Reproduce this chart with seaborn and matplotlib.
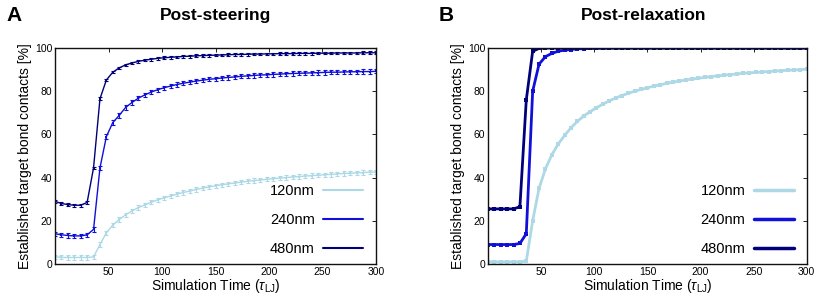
"""Bond-contact formation over simulation time, post-steering vs post-relaxation."""

import matplotlib
matplotlib.use("Agg")
import matplotlib.pyplot as plt
from matplotlib.lines import Line2D
import pandas as pd
import seaborn as sns

# ---------------------------------------------------------------------------
# Data
# ---------------------------------------------------------------------------

TIME = list(range(0, 301, 6))
LENGTHS = ["120nm", "240nm", "480nm"]
COLORS = {"120nm": "#add8e6", "240nm": "#1010d8", "480nm": "#00007a"}

# Panel A: post-steering
A_120 = [3.3, 3.1, 3.0, 3.0, 3.0, 3.0, 3.3, 9.0, 14.5, 18.0,
         20.6, 22.8, 24.6, 26.1, 27.4, 28.6, 29.7, 30.6, 31.5, 32.3,
         33.1, 33.8, 34.5, 35.1, 35.7, 36.2, 36.7, 37.1, 37.5, 37.9,
         38.3, 38.6, 38.9, 39.2, 39.5, 39.8, 40.0, 40.3, 40.5, 40.7,
         40.9, 41.1, 41.3, 41.5, 41.7, 41.9, 42.0, 42.2, 42.3, 42.5, 42.6]
A_240 = [14.0, 13.5, 13.2, 13.0, 13.0, 13.5, 16.0, 44.5, 59.0, 65.5,
         68.8, 72.5, 74.8, 76.8, 78.3, 79.6, 80.7, 81.6, 82.4, 83.1,
         83.7, 84.2, 84.7, 85.1, 85.5, 85.8, 86.1, 86.4, 86.6, 86.9,
         87.1, 87.3, 87.5, 87.6, 87.8, 87.9, 88.1, 88.2, 88.3, 88.4,
         88.5, 88.6, 88.7, 88.8, 88.8, 88.9, 89.0, 89.0, 89.1, 89.1, 89.2]
A_480 = [29.0, 28.0, 27.5, 27.2, 27.2, 28.5, 44.5, 76.5, 85.2, 88.8,
         90.8, 92.2, 93.1, 93.8, 94.4, 94.8, 95.2, 95.5, 95.7, 95.9,
         96.1, 96.2, 96.4, 96.5, 96.6, 96.7, 96.8, 96.9, 97.0, 97.0,
         97.1, 97.2, 97.2, 97.3, 97.3, 97.4, 97.4, 97.4, 97.5, 97.5,
         97.5, 97.6, 97.6, 97.6, 97.7, 97.7, 97.7, 97.7, 97.8, 97.8, 97.8]
A_ERR = {"120nm": 1.0, "240nm": 1.0, "480nm": 0.6}

# Panel B: post-relaxation
B_120 = [1.0, 1.0, 1.0, 1.0, 1.0, 1.0, 1.3, 20.0, 35.0, 44.0,
         50.5, 55.5, 59.5, 63.0, 66.0, 68.5, 70.5, 72.3, 74.0, 75.5,
         76.8, 78.0, 79.0, 80.0, 80.8, 81.6, 82.3, 83.0, 83.6, 84.2,
         84.7, 85.2, 85.6, 86.0, 86.4, 86.8, 87.1, 87.4, 87.7, 88.0,
         88.3, 88.5, 88.7, 88.9, 89.1, 89.3, 89.5, 89.7, 89.8, 90.0, 90.2]
B_240 = [9.0, 9.0, 9.0, 9.0, 9.0, 9.5, 14.0, 80.0, 92.5, 96.0,
         97.5, 98.5, 99.0, 99.3, 99.6, 99.7, 99.8, 99.9, 99.9, 100.0,
         100.0, 100.0, 100.0, 100.0, 100.0, 100.0, 100.0, 100.0, 100.0, 100.0,
         100.0, 100.0, 100.0, 100.0, 100.0, 100.0, 100.0, 100.0, 100.0, 100.0,
         100.0, 100.0, 100.0, 100.0, 100.0, 100.0, 100.0, 100.0, 100.0, 100.0, 100.0]
B_480 = [25.5, 25.5, 25.5, 25.5, 25.5, 26.5, 76.0, 98.5, 99.8, 100.0,
         100.0, 100.0, 100.0, 100.0, 100.0, 100.0, 100.0, 100.0, 100.0, 100.0,
         100.0, 100.0, 100.0, 100.0, 100.0, 100.0, 100.0, 100.0, 100.0, 100.0,
         100.0, 100.0, 100.0, 100.0, 100.0, 100.0, 100.0, 100.0, 100.0, 100.0,
         100.0, 100.0, 100.0, 100.0, 100.0, 100.0, 100.0, 100.0, 100.0, 100.0, 100.0]

X_TICKS = [50, 100, 150, 200, 250, 300]
Y_TICKS = [0, 20, 40, 60, 80, 100]

FONT = ["Liberation Sans", "DejaVu Sans"]


def _long(series: dict) -> pd.DataFrame:
    frames = [pd.DataFrame({"time": TIME, "value": vals, "length": name})
              for name, vals in series.items()]
    return pd.concat(frames, ignore_index=True)


def _panel(ax, df, lw, ms, errs=None):
    sns.lineplot(data=df, x="time", y="value", hue="length",
                 hue_order=LENGTHS, palette=COLORS, lw=lw,
                 marker="s", markersize=ms, markeredgewidth=0,
                 legend=False, ax=ax)
    if errs is not None:
        for name in LENGTHS:
            sub = df[df["length"] == name]
            ax.errorbar(sub["time"], sub["value"], yerr=errs[name],
                        fmt="none", ecolor=COLORS[name], elinewidth=0.8,
                        capsize=1.6, capthick=0.8)

    ax.set_xlim(0, 300)
    ax.set_ylim(0, 100)
    ax.set_xticks(X_TICKS)
    ax.set_yticks(Y_TICKS)
    ax.tick_params(direction="in", top=True, right=True, length=3,
                   width=0.6, labelsize=7.5, pad=2, colors="black")
    for spine in ax.spines.values():
        spine.set_linewidth(1.0)
        spine.set_color("#111111")
    ax.set_xlabel(r"Simulation Time ($\tau_{\mathrm{LJ}}$)", fontsize=10,
                  labelpad=0)
    ax.set_ylabel("Established target bond contacts [%]", fontsize=10,
                  labelpad=2)

    handles = [Line2D([], [], color=COLORS[n], lw=lw + 0.5) for n in LENGTHS]
    ax.legend(handles, LENGTHS, loc="lower right", frameon=False,
              markerfirst=False, fontsize=10.5, handlelength=2.7,
              labelspacing=1.05, handletextpad=0.6,
              bbox_to_anchor=(1.0, -0.025))


sns.set_theme(style="white")
plt.rcParams["font.family"] = FONT
plt.rcParams["text.color"] = "black"
plt.rcParams["axes.labelcolor"] = "black"
plt.rcParams["mathtext.fontset"] = "custom"
plt.rcParams["mathtext.rm"] = "Liberation Sans"
plt.rcParams["mathtext.it"] = "Liberation Sans:italic"

fig = plt.figure(figsize=(8.3, 3.01), dpi=100)
ax_a = fig.add_axes([0.0663, 0.123, 0.3867, 0.7175])
ax_b = fig.add_axes([0.588, 0.123, 0.384, 0.7175])

_panel(ax_a, _long({"120nm": A_120, "240nm": A_240, "480nm": A_480}),
       lw=1.0, ms=2.0, errs=A_ERR)
_panel(ax_b, _long({"120nm": B_120, "240nm": B_240, "480nm": B_480}),
       lw=2.0, ms=2.3)

fig.text(0.26, 0.948, "Post-steering", ha="center", va="center",
         fontsize=12.5, fontweight="bold")
fig.text(0.775, 0.948, "Post-relaxation", ha="center", va="center",
         fontsize=12.5, fontweight="bold")
fig.text(0.008, 0.948, "A", ha="left", va="center", fontsize=15,
         fontweight="bold")
fig.text(0.528, 0.948, "B", ha="left", va="center", fontsize=15,
         fontweight="bold")

fig.savefig("out.png", dpi=100)
